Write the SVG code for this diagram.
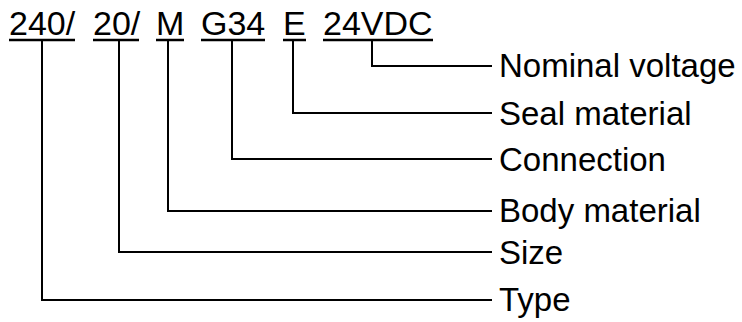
<svg xmlns="http://www.w3.org/2000/svg" width="742" height="322" viewBox="0 0 742 322">
<style>
.code{font-family:"Liberation Sans",Arial,sans-serif;font-size:34px;fill:#000}
.lbl{font-family:"Liberation Sans",Arial,sans-serif;font-size:33px;fill:#000}
.ul{stroke:#000;stroke-width:2.5;fill:none}
.con{stroke:#000;stroke-width:2;fill:none}
</style>
<rect width="742" height="322" fill="#fff"/>
<g id="code-type"><text class="code" x="9" y="35">240/</text><line class="ul" x1="9" y1="40" x2="75" y2="40"/></g>
<g id="code-size"><text class="code" x="93" y="35">20/</text><line class="ul" x1="93" y1="40" x2="139" y2="40"/></g>
<g id="code-body"><text class="code" x="156" y="35">M</text><line class="ul" x1="156" y1="40" x2="184" y2="40"/></g>
<g id="code-conn"><text class="code" x="201" y="35">G34</text><line class="ul" x1="201" y1="40" x2="265" y2="40"/></g>
<g id="code-seal"><text class="code" x="283" y="35">E</text><line class="ul" x1="283" y1="40" x2="306" y2="40"/></g>
<g id="code-volt"><text class="code" x="323" y="35">24VDC</text><line class="ul" x1="323" y1="40" x2="433" y2="40"/></g>
<g id="label-volt"><text class="lbl" x="499" y="77">Nominal voltage</text></g>
<g id="label-seal"><text class="lbl" x="499" y="125">Seal material</text></g>
<g id="label-conn"><text class="lbl" x="499" y="171">Connection</text></g>
<g id="label-body"><text class="lbl" x="499" y="222">Body material</text></g>
<g id="label-size"><text class="lbl" x="499" y="264">Size</text></g>
<g id="label-type"><text class="lbl" x="499" y="311">Type</text></g>
<g id="connectors">
<polyline class="con" points="372,41 372,66 492,66"/>
<polyline class="con" points="293,41 293,113 492,113"/>
<polyline class="con" points="232,41 232,159 492,159"/>
<polyline class="con" points="168,41 168,211 492,211"/>
<polyline class="con" points="119,41 119,252 492,252"/>
<polyline class="con" points="42,41 42,300 492,300"/>
</g>
</svg>
